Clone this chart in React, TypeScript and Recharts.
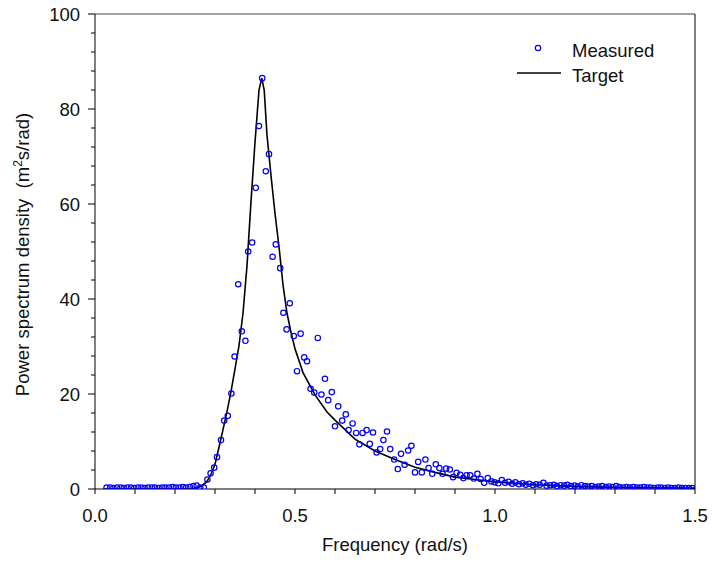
import React from "react";
import {
  ComposedChart,
  Legend,
  Line,
  ReferenceLine,
  Scatter,
  XAxis,
  YAxis,
} from "recharts";

const font = "'Liberation Sans', Arial, sans-serif";
const fs = 18.5;

// measured spectrum (rad/s, m^2 s/rad)
const measuredFreq = [
  0.029, 0.038, 0.046, 0.055, 0.064, 0.072, 0.081, 0.09, 0.098, 0.107, 0.116, 0.124, 0.133, 0.142,
  0.15, 0.159, 0.168, 0.176, 0.185, 0.194, 0.202, 0.211, 0.22, 0.228, 0.237, 0.246, 0.254, 0.263,
  0.272, 0.281, 0.289, 0.298, 0.305, 0.315, 0.323, 0.332, 0.341, 0.349, 0.358, 0.367, 0.376, 0.383,
  0.393, 0.402, 0.41, 0.418, 0.427, 0.435, 0.444, 0.452, 0.463, 0.471, 0.479, 0.487, 0.497, 0.505,
  0.514, 0.523, 0.53, 0.539, 0.548, 0.557, 0.566, 0.575, 0.583, 0.592, 0.6, 0.608, 0.618, 0.627,
  0.634, 0.644, 0.653, 0.661, 0.669, 0.679, 0.687, 0.695, 0.704, 0.713, 0.721, 0.73, 0.738, 0.748,
  0.757, 0.765, 0.774, 0.783, 0.791, 0.8, 0.808, 0.817, 0.826, 0.834, 0.843, 0.852, 0.861, 0.869,
  0.878, 0.887, 0.895, 0.904, 0.913, 0.921, 0.929, 0.938, 0.947, 0.956, 0.964, 0.973, 0.982, 0.991,
  0.999, 1.008, 1.017, 1.025, 1.034, 1.043, 1.051, 1.06, 1.069, 1.077, 1.086, 1.095, 1.103, 1.112,
  1.121, 1.129, 1.138, 1.147, 1.155, 1.164, 1.173, 1.181, 1.19, 1.199, 1.207, 1.216, 1.225, 1.233,
  1.242, 1.251, 1.259, 1.268, 1.277, 1.285, 1.294, 1.303, 1.311, 1.32, 1.329, 1.337, 1.346, 1.355,
  1.363, 1.372, 1.381, 1.389, 1.398, 1.407, 1.415, 1.424, 1.433, 1.441, 1.45, 1.459, 1.467, 1.476,
  1.485, 1.493,
];
const measuredPsd = [
  0.3, 0.3, 0.2, 0.3, 0.3, 0.2, 0.3, 0.3, 0.2, 0.3, 0.3, 0.2, 0.3, 0.3,
  0.3, 0.2, 0.3, 0.3, 0.3, 0.4, 0.3, 0.3, 0.4, 0.3, 0.4, 0.6, 0.7, 0.3,
  0.3, 2.0, 3.3, 4.5, 6.7, 10.3, 14.4, 15.4, 20.1, 27.9, 43.1, 33.2, 31.2, 50.0,
  51.9, 63.4, 76.4, 86.5, 66.9, 70.5, 48.9, 51.5, 46.5, 37.1, 33.6, 39.1, 32.2, 24.8,
  32.7, 27.7, 26.9, 21.1, 20.3, 31.8, 19.9, 23.2, 18.7, 20.4, 13.2, 17.4, 14.4, 15.7,
  12.4, 13.8, 11.8, 9.4, 11.8, 12.4, 9.5, 11.9, 7.7, 8.4, 10.3, 12.1, 8.4, 6.2,
  4.2, 7.4, 5.1, 8.1, 9.1, 3.5, 5.7, 3.5, 6.2, 4.4, 3.2, 5.2, 4.4, 3.2,
  4.3, 4.1, 2.5, 3.4, 3.0, 2.3, 2.9, 2.9, 2.2, 3.2, 2.1, 1.3, 2.3, 1.6,
  1.4, 1.2, 1.9, 1.3, 1.5, 1.1, 1.4, 1.0, 1.2, 0.9, 1.1, 0.8, 1.0, 0.9,
  1.3, 0.7, 0.8, 0.9, 0.6, 0.8, 0.7, 0.9, 0.6, 0.7, 0.5, 0.8, 0.6, 0.5,
  0.6, 0.4, 0.5, 0.6, 0.4, 0.5, 0.4, 0.6, 0.4, 0.3, 0.4, 0.3, 0.4, 0.3,
  0.3, 0.4, 0.3, 0.3, 0.2, 0.3, 0.3, 0.2, 0.3, 0.2, 0.2, 0.3, 0.2, 0.2,
  0.2, 0.2,
];

// target spectrum
const targetFreq = [
  0.02, 0.1, 0.2, 0.24, 0.25, 0.26, 0.27, 0.28, 0.29, 0.3, 0.31, 0.32, 0.33, 0.34, 0.35, 0.36,
  0.37, 0.38, 0.39, 0.4, 0.41, 0.417, 0.423, 0.43, 0.44, 0.45, 0.46, 0.47, 0.48, 0.49, 0.5,
  0.52, 0.55, 0.58, 0.6, 0.65, 0.7, 0.75, 0.8, 0.85, 0.9, 0.95, 1.0, 1.1, 1.2, 1.3, 1.4, 1.5,
];
const targetPsd = [
  0, 0, 0, 0.05, 0.15, 0.4, 0.9, 1.6, 3.1, 5.2, 8.8, 12.5, 16.3, 20.5, 25.3, 30.2,
  37, 47, 60.5, 73, 84, 86.5, 84, 74.5, 66, 58, 51, 43, 37, 33, 29.5,
  24.5, 19.8, 16.2, 14.5, 10.5, 8.0, 6.2, 4.6, 3.5, 2.5, 2.0, 1.5, 0.9, 0.55, 0.35, 0.25, 0.18,
];

const xTicks = [0, 0.1, 0.2, 0.3, 0.4, 0.5, 0.6, 0.7, 0.8, 0.9, 1.0, 1.1, 1.2, 1.3, 1.4, 1.5];
const xLabels = [0, 0.5, 1.0, 1.5];
const yTicks = [0, 4, 8, 12, 16, 20, 24, 28, 32, 36, 40, 44, 48, 52, 56, 60, 64, 68, 72, 76, 80, 84, 88, 92, 96, 100];
const yLabels = [0, 20, 40, 60, 80, 100];

const measured = measuredFreq.map((f, i) => ({ f, v: measuredPsd[i] }));
const target = targetFreq.map((f, i) => ({ f, v: targetPsd[i] }));

function XTick(props: any) {
  const { x, y, payload } = props;
  const v = payload.value;
  const major = xLabels.some((l) => Math.abs(l - v) < 1e-6);
  return (
    <g>
      <line x1={x} x2={x} y1={y} y2={y + 5} stroke="#000" />
      {major && (
        <text x={x} y={y + 33} textAnchor="middle" fontSize={fs} fontFamily={font} fill="#111">
          {v.toFixed(1)}
        </text>
      )}
    </g>
  );
}

function YTick(props: any) {
  const { x, y, payload } = props;
  const v = payload.value;
  const major = yLabels.includes(v);
  return (
    <g>
      <line x1={x - (major ? 7 : 4)} x2={x} y1={y} y2={y} stroke="#000" />
      {major && (
        <text x={x - 15} y={y + 6.5} textAnchor="end" fontSize={fs} fontFamily={font} fill="#111">
          {v}
        </text>
      )}
    </g>
  );
}

function XTitle(props: any) {
  const vb = props.viewBox;
  return (
    <text x={vb.x + vb.width / 2} y={vb.y + 62} textAnchor="middle" fontSize={fs} fontFamily={font} fill="#111">
      Frequency (rad/s)
    </text>
  );
}

function YTitle(props: any) {
  const vb = props.viewBox;
  const cx = 29;
  const cy = vb.y + vb.height / 2 + 3;
  return (
    <text
      x={cx}
      y={cy}
      transform={`rotate(-90, ${cx}, ${cy})`}
      textAnchor="middle"
      fontSize={fs}
      fontFamily={font}
      fill="#111"
      style={{ whiteSpace: "pre" }}
    >
      <tspan>Power spectrum density  (m</tspan>
      <tspan dy={-7} fontSize={12}>2</tspan>
      <tspan dy={7}>s/rad)</tspan>
    </text>
  );
}

function LegendBox() {
  return (
    <svg width={170} height={54} style={{ display: "block" }}>
      <circle cx={23} cy={14} r={2.7} fill="none" stroke="#0000ff" strokeWidth={1.2} />
      <text x={57} y={23} fontSize={fs} fontFamily={font} fill="#111">Measured</text>
      <line x1={2} x2={46} y1={39} y2={39} stroke="#000" strokeWidth={1.5} />
      <text x={57} y={48} fontSize={fs} fontFamily={font} fill="#111">Target</text>
    </svg>
  );
}

const dot = (p: any) => (
  <circle cx={p.cx} cy={p.cy} r={2.7} fill="none" stroke="#0000ff" strokeWidth={1.2} />
);

export default function App() {
  return (
    <div style={{ position: "absolute", left: 0, top: 0, background: "#fff" }}>
      <ComposedChart width={712} height={565} margin={{ top: 14, right: 17, bottom: 0, left: 0 }}>
        <XAxis
          type="number"
          dataKey="f"
          domain={[0, 1.5]}
          ticks={xTicks}
          interval={0}
          allowDataOverflow
          height={76}
          stroke="#000"
          tickLine={false}
          tickSize={0}
          tickMargin={0}
          tick={<XTick />}
          label={<XTitle />}
        />
        <YAxis
          type="number"
          dataKey="v"
          domain={[0, 100]}
          ticks={yTicks}
          interval={0}
          allowDataOverflow
          width={95}
          stroke="#000"
          tickLine={false}
          tickSize={0}
          tickMargin={0}
          tick={<YTick />}
          label={<YTitle />}
        />
        <ReferenceLine y={100} stroke="#444" />
        <ReferenceLine x={1.5} stroke="#000" />
        <Line
          data={target}
          dataKey="v"
          type="linear"
          stroke="#000"
          strokeWidth={1.6}
          dot={false}
          activeDot={false}
          isAnimationActive={false}
        />
        <Scatter data={measured} dataKey="v" shape={dot} isAnimationActive={false} />
        <Legend
          layout="vertical"
          align="center"
          verticalAlign="middle"
          content={<LegendBox />}
          wrapperStyle={{ left: 515, top: 34, width: 170, height: 54 }}
        />
      </ComposedChart>
    </div>
  );
}
